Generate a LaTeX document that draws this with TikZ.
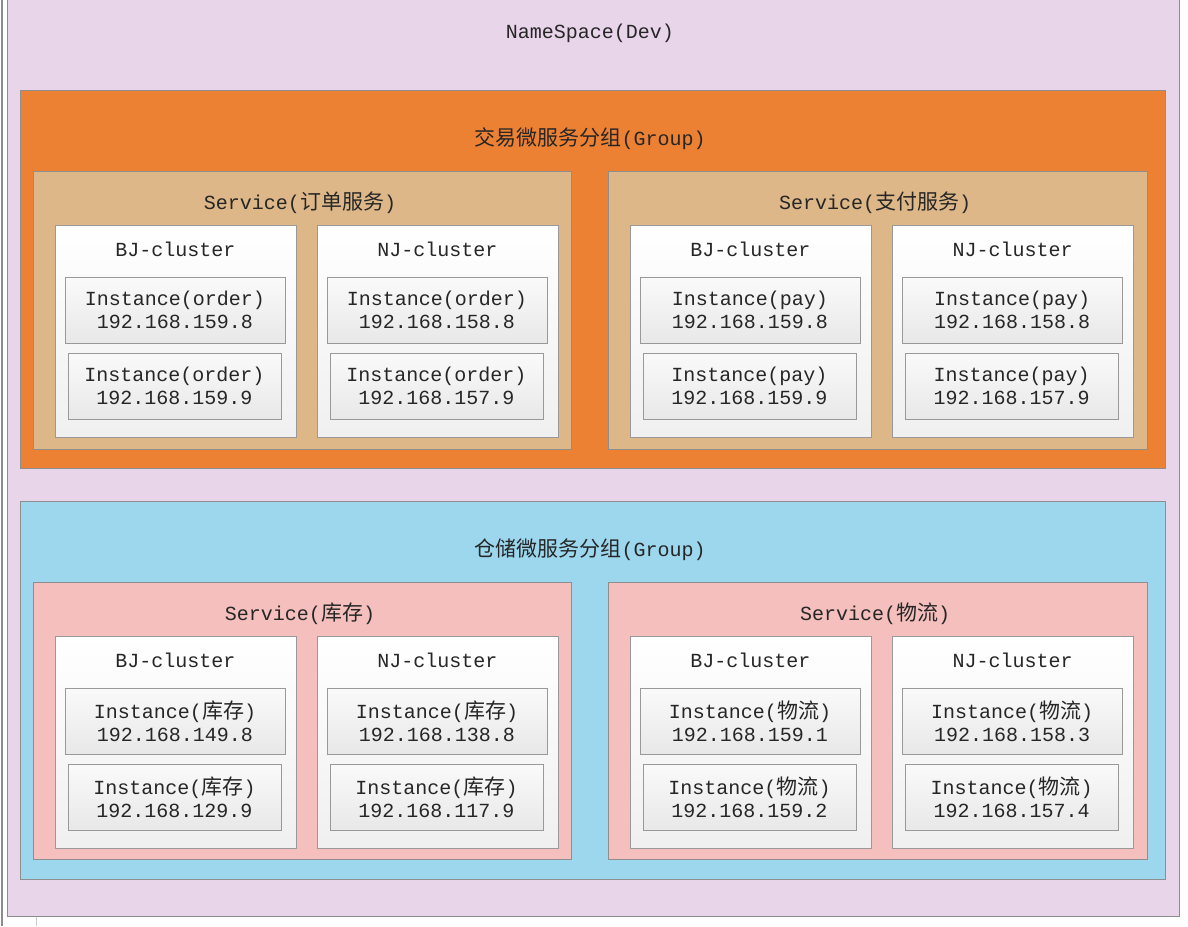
\documentclass[tikz,border=0pt]{standalone}
\usepackage{fontspec}
\setmainfont{Liberation Mono}
\newfontfamily\cjk{Noto Sans CJK SC}
\usetikzlibrary{shadows}
\newcommand{\zh}[1]{{\cjk\fontsize{21}{23}\selectfont #1}}
\definecolor{nsbg}{HTML}{E9D5E9}
\definecolor{grpor}{HTML}{ED8133}
\definecolor{svtan}{HTML}{DDB788}
\definecolor{grpbl}{HTML}{9DD7EE}
\definecolor{svpk}{HTML}{F4BFBD}
\definecolor{edge}{HTML}{8E8E8E}
\definecolor{txt}{HTML}{262626}
\tikzset{
  frame/.style={draw=edge, line width=1pt, inner sep=0pt, outer sep=0pt, anchor=north west},
  clusterbox/.style={frame, draw=edge!90, top color=white, bottom color=black!6, minimum width=241pt, minimum height=212pt},
  inst/.style={frame, draw=edge!90, top color=black!2, bottom color=black!9, minimum height=66pt, align=center, text=txt,
    font=\fontsize{20}{23}\selectfont, drop shadow={shadow xshift=1pt, shadow yshift=-1pt, fill=black, opacity=0.15}},
  ttl/.style={text=txt, font=\fontsize{20}{23}\selectfont, inner sep=0pt}
}
\newcommand{\mkcluster}[6]{%
  \node[clusterbox] (#1) at (#2,#3) {};
  \node[ttl] (#1t) at (#2+120.5,#3+24) {#4};
  \node[inst, minimum width=220pt] (#1a) at (#2+10,#3+52) {#5};
  \node[inst, minimum width=213pt] (#1b) at (#2+13,#3+128) {#6};
}
\begin{document}
\begin{tikzpicture}[x=1pt,y=-1pt]
\useasboundingbox (0,0) rectangle (1188,926);
\fill[white] (0,0) rectangle (1188,926);
\draw[black!45, line width=2pt] (1.5,0) -- (1.5,926);
\draw[black!20, line width=1pt] (36,917) -- (36,926);
% namespace
\node[frame, fill=nsbg, minimum width=1172pt, minimum height=921pt] (ns) at (7,-5) {};
\node[ttl] (nst) at (590,33) {NameSpace(Dev)};
% group 1
\node[frame, fill=grpor, minimum width=1145pt, minimum height=378pt] (g1) at (20,90) {};
\node[ttl] (g1t) at (590,139) {\zh{交易微服务分组}(Group)};
\node[frame, fill=svtan, minimum width=538pt, minimum height=278pt] (s1) at (33,171) {};
\node[ttl] (s1t) at (300,203) {Service(\zh{订单服务})};
\node[frame, fill=svtan, minimum width=539pt, minimum height=278pt] (s2) at (608,171) {};
\node[ttl] (s2t) at (875,203) {Service(\zh{支付服务})};
\mkcluster{c1}{55}{225}{BJ-cluster}{Instance(order)\\192.168.159.8}{Instance(order)\\192.168.159.9}
\mkcluster{c2}{317}{225}{NJ-cluster}{Instance(order)\\192.168.158.8}{Instance(order)\\192.168.157.9}
\mkcluster{c3}{630}{225}{BJ-cluster}{Instance(pay)\\192.168.159.8}{Instance(pay)\\192.168.159.9}
\mkcluster{c4}{892}{225}{NJ-cluster}{Instance(pay)\\192.168.158.8}{Instance(pay)\\192.168.157.9}
% group 2
\node[frame, fill=grpbl, minimum width=1145pt, minimum height=378pt] (g2) at (20,501) {};
\node[ttl] (g2t) at (590,550) {\zh{仓储微服务分组}(Group)};
\node[frame, fill=svpk, minimum width=538pt, minimum height=277pt] (s3) at (33,582) {};
\node[ttl] (s3t) at (300,614) {Service(\zh{库存})};
\node[frame, fill=svpk, minimum width=539pt, minimum height=277pt] (s4) at (608,582) {};
\node[ttl] (s4t) at (875,614) {Service(\zh{物流})};
\mkcluster{c5}{55}{636}{BJ-cluster}{Instance(\zh{库存})\\192.168.149.8}{Instance(\zh{库存})\\192.168.129.9}
\mkcluster{c6}{317}{636}{NJ-cluster}{Instance(\zh{库存})\\192.168.138.8}{Instance(\zh{库存})\\192.168.117.9}
\mkcluster{c7}{630}{636}{BJ-cluster}{Instance(\zh{物流})\\192.168.159.1}{Instance(\zh{物流})\\192.168.159.2}
\mkcluster{c8}{892}{636}{NJ-cluster}{Instance(\zh{物流})\\192.168.158.3}{Instance(\zh{物流})\\192.168.157.4}
\end{tikzpicture}
\end{document}
